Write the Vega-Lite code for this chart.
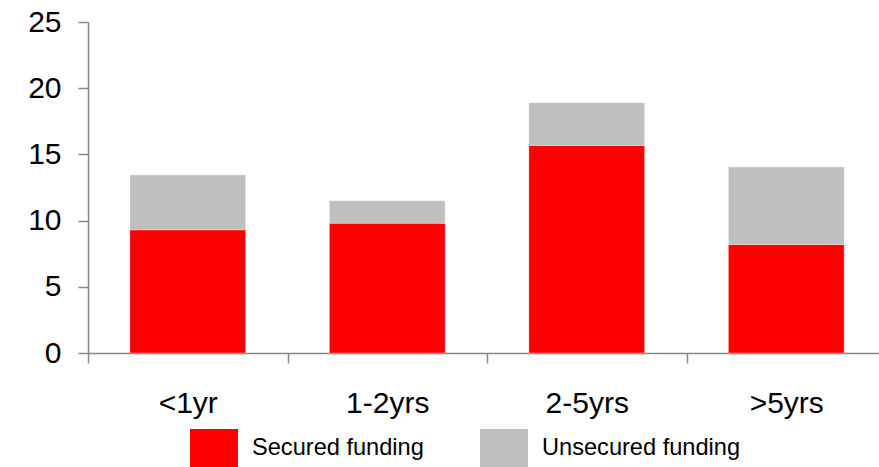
{
  "$schema": "https://vega.github.io/schema/vega-lite/v6.json",
  "width": 791,
  "height": 331,
  "autosize": {"type": "none"},
  "padding": {"left": 88, "top": 22, "right": 0, "bottom": 114},
  "background": "white",
  "config": {
    "view": {"stroke": null},
    "font": "Liberation Sans",
    "axis": {
      "domainColor": "#868686",
      "domainWidth": 1.5,
      "tickColor": "#868686",
      "tickWidth": 1.5,
      "tickSize": 10,
      "labelColor": "#000000",
      "labelFont": "Liberation Sans",
      "labelFontSize": 30,
      "grid": false,
      "title": null
    }
  },
  "data": {
    "values": [
      {"period": "<1yr", "type": "Secured funding", "value": 9.3},
      {"period": "<1yr", "type": "Unsecured funding", "value": 4.15},
      {"period": "1-2yrs", "type": "Secured funding", "value": 9.8},
      {"period": "1-2yrs", "type": "Unsecured funding", "value": 1.7},
      {"period": "2-5yrs", "type": "Secured funding", "value": 15.68},
      {"period": "2-5yrs", "type": "Unsecured funding", "value": 3.22},
      {"period": ">5yrs", "type": "Secured funding", "value": 8.2},
      {"period": ">5yrs", "type": "Unsecured funding", "value": 5.85}
    ]
  },
  "mark": {
    "type": "bar",
    "width": {"band": 0.58},
    "stroke": "#ffffff",
    "strokeWidth": 0.5,
    "strokeOpacity": 0.6
  },
  "encoding": {
    "x": {
      "field": "period",
      "type": "nominal",
      "sort": ["<1yr", "1-2yrs", "2-5yrs", ">5yrs"],
      "scale": {"range": [0, 798], "paddingInner": 0, "paddingOuter": 0},
      "axis": {
        "labelAngle": 0,
        "tickBand": "extent",
        "labelPadding": 25,
        "labelBaseline": "top"
      }
    },
    "y": {
      "field": "value",
      "type": "quantitative",
      "stack": "zero",
      "scale": {"domain": [0, 25], "nice": false},
      "axis": {
        "values": [0, 5, 10, 15, 20, 25],
        "labelPadding": 17
      }
    },
    "order": {"field": "type", "sort": "ascending"},
    "color": {
      "field": "type",
      "type": "nominal",
      "scale": {
        "domain": ["Secured funding", "Unsecured funding"],
        "range": ["#ff0000", "#bfbfbf"]
      },
      "legend": {
        "title": null,
        "orient": "none",
        "direction": "horizontal",
        "legendX": 107,
        "legendY": 407,
        "padding": 0,
        "symbolType": "M-1.263,-1H1.263V1H-1.263Z",
        "symbolSize": 1444,
        "symbolStrokeWidth": 0,
        "symbolOpacity": 1,
        "labelFont": "Liberation Sans",
        "labelFontSize": 23.6,
        "labelColor": "#000000",
        "labelOffset": 19,
        "labelLimit": 0,
        "columnPadding": 56
      }
    }
  }
}
